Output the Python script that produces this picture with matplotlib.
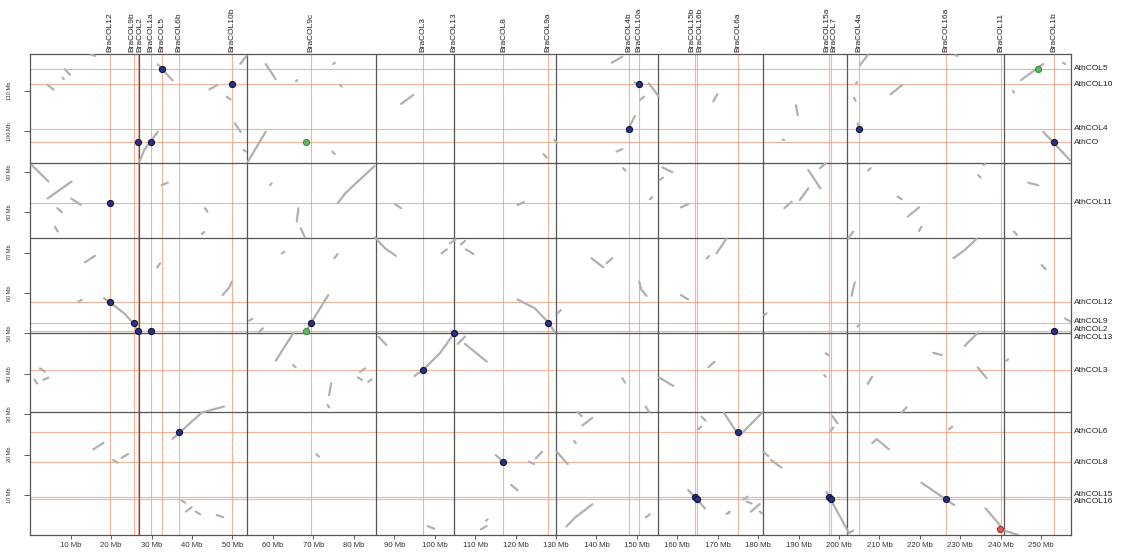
import numpy as np
import matplotlib
matplotlib.use("Agg")
import matplotlib.pyplot as plt
from matplotlib.transforms import blended_transform_factory

plt.rcParams['font.family'] = ['Liberation Sans', 'DejaVu Sans']

# ---------------- data (Mb) ----------------
# cumulative chromosome ends
bra_chrom_ends = [26.9, 53.7, 85.5, 104.8, 130.1, 155.3, 181.1, 202.0, 240.8, 257.3]
ath_chrom_ends = [30.43, 50.13, 73.59, 92.18, 119.16]

bra_genes = ["BraCOL12", "BraCOL9b", "BraCOL2", "BraCOL1a", "BraCOL5", "BraCOL6b",
             "BraCOL10b", "BraCOL9c", "BraCOL3", "BraCOL13", "BraCOL8", "BraCOL9a",
             "BraCOL4b", "BraCOL10a", "BraCOL15b", "BraCOL16b", "BraCOL6a",
             "BraCOL15a", "BraCOL7", "BraCOL4a", "BraCOL16a", "BraCOL11", "BraCOL1b"]
bra_pos = [19.7, 25.7, 26.6, 29.8, 32.5, 36.7, 49.9, 69.5, 97.0, 104.7, 117.0, 128.1,
           148.1, 150.5, 164.4, 164.9, 175.1, 197.6, 198.1, 205.0, 226.4, 240.0, 253.1]

ath_genes = ["AthCOL5", "AthCOL10", "AthCOL4", "AthCO", "AthCOL11", "AthCOL12",
             "AthCOL9", "AthCOL2", "AthCOL13", "AthCOL3", "AthCOL6", "AthCOL8",
             "AthCOL15", "AthCOL16"]
ath_pos = [115.57, 111.73, 100.67, 97.30, 82.28, 57.70, 52.50, 50.59, 49.98, 40.94,
           25.67, 18.09, 9.58, 8.94]

# synteny blocks: each is a polyline (x list, y list)
block_x = [
    [15.0, 16.0], [8.6, 9.8], [8.0, 8.3], [4.3, 5.7], [31.5, 35.2], [44.3, 46.3],
    [51.9, 53.5], [48.6, 49.5], [50.6, 52.0], [52.8, 53.3], [26.9, 28.2, 29.6, 31.5],
    [53.8, 58.2], [58.2, 60.7], [65.7, 66.0], [74.9, 75.3], [76.6, 77.0], [74.7, 75.3],
    [0.3, 4.5], [4.3, 10.2], [10.1, 12.5], [6.7, 7.8], [6.1, 6.8], [32.5, 34.0],
    [43.2, 43.8], [42.4, 43.0], [13.5, 16.0], [31.4, 32.1], [47.6, 49.3, 49.8],
    [59.3, 59.7], [66.3, 65.9], [66.9, 67.9], [76.0, 78.0, 85.1], [62.2, 62.8],
    [75.2, 76.0], [85.2, 87.7, 90.4],
    [91.7, 94.7], [143.8, 146.4], [149.4, 150.4], [153.0, 155.3], [150.8, 151.8],
    [147.5, 149.5], [145.0, 146.4], [126.9, 127.7], [129.6, 130.2], [146.6, 147.2],
    [156.3, 158.8], [155.7, 156.5], [153.2, 153.8], [90.2, 91.7], [120.5, 122.1],
    [160.9, 162.7], [168.9, 169.9], [101.7, 103.0], [103.8, 105.2], [106.5, 107.5],
    [107.7, 109.6], [138.8, 141.7], [142.5, 143.9], [167.3, 167.9], [169.7, 172.2],
    [150.6, 151.0, 152.4],
    [205.2, 207.1], [228.7, 229.3], [204.2, 204.5], [212.8, 215.6], [203.7, 204.1],
    [189.35, 189.8], [186.05, 186.4], [204.6, 205.0], [245.0, 250.5], [255.4, 255.9],
    [243.0, 243.3], [250.5, 257.1], [192.4, 195.4], [195.3, 196.7], [186.5, 188.3],
    [190.3, 192.4], [207.2, 207.8], [214.5, 215.5], [217.0, 219.8], [219.8, 220.4],
    [202.3, 203.5], [234.4, 235.0], [235.7, 236.1], [246.8, 249.3], [243.3, 244.0],
    [228.3, 231.1, 234.0], [250.1, 251.1], [203.1, 203.9],
    [11.9, 12.7], [18.2, 19.7, 23.4, 25.5, 26.7], [54.1, 54.9], [56.6, 57.5],
    [60.7, 65.0], [67.8, 73.7], [65.0, 65.6], [2.4, 3.6], [3.2, 4.5], [1.0, 1.7],
    [81.5, 82.8], [81.0, 82.0], [83.6, 84.4], [74.4, 73.9], [73.5, 73.9],
    [35.2, 42.4, 47.9], [15.6, 18.1], [20.5, 21.6], [22.6, 24.2], [70.8, 71.4],
    [86.1, 88.1], [37.4, 38.3], [38.5, 39.9], [40.9, 42.0], [46.1, 47.7],
    [94.97, 97.03, 101.3, 104.8], [105.7, 107.5], [107.5, 112.9],
    [120.5, 124.8, 128.3, 129.75], [130.4, 131.2], [160.9, 162.7], [167.7, 169.2],
    [146.4, 147.1], [155.5, 159.0], [152.2, 153.0], [135.3, 136.35], [136.5, 139.0],
    [134.5, 134.9], [130.2, 132.9], [125.0, 126.6], [123.3, 124.6], [115.1, 117.0],
    [118.9, 120.5], [162.7, 166.85], [166.0, 167.0], [165.2, 165.9],
    [171.5, 175.3, 180.9], [132.6, 134.7, 139.0], [98.3, 99.9], [111.45, 112.85],
    [112.7, 113.1], [152.2, 153.2], [172.2, 172.8],
    [181.5, 182.1], [204.6, 205.0], [231.1, 234.0], [223.3, 225.4], [255.9, 257.3],
    [241.4, 241.85], [234.3, 236.5], [207.1, 208.2], [196.7, 197.3], [196.35, 196.7],
    [215.5, 216.7], [198.3, 199.65], [198.0, 198.6], [208.2, 209.3, 212.35],
    [227.2, 228.0], [181.3, 182.5], [183.2, 185.8], [196.9, 202.3], [220.4, 228.5],
    [236.25, 240.9, 244.3], [176.3, 177.4], [177.2, 178.4], [178.2, 180.4],
    [180.4, 181.0], [172.6, 173.0], [202.3, 203.5],
]
block_y = [
    [119.0, 118.7], [115.4, 114.0], [113.3, 112.9], [111.5, 110.4], [116.6, 112.6], [110.4, 111.5],
    [116.7, 118.7], [108.6, 107.9], [102.0, 99.9], [95.4, 95.0], [92.3, 95.4, 97.3, 99.9],
    [92.5, 99.9], [116.7, 112.9], [112.4, 112.7], [116.7, 117.0], [111.5, 111.1], [95.0, 94.4],
    [91.7, 87.6], [83.4, 87.6], [83.4, 81.8], [81.0, 80.0], [76.4, 75.2], [86.7, 87.3],
    [81.0, 80.1], [74.6, 75.1], [67.6, 69.2], [66.35, 67.35], [59.5, 61.5, 62.8],
    [86.7, 87.15], [81.0, 77.7], [76.0, 73.8], [82.2, 84.8, 91.4], [69.8, 70.2],
    [68.6, 69.65], [73.8, 71.1, 69.2],
    [106.8, 109.0], [117.0, 118.5], [112.15, 111.7], [111.9, 108.8], [107.8, 108.6],
    [99.9, 103.8], [95.0, 95.65], [94.4, 93.5], [97.9, 97.2], [90.9, 90.3],
    [91.1, 89.9], [88.0, 88.55], [83.2, 83.7], [82.0, 81.0], [81.8, 82.45],
    [81.2, 82.0], [107.4, 109.2], [69.8, 70.8], [72.3, 73.3], [72.05, 72.9],
    [70.8, 69.65], [68.6, 66.35], [67.35, 68.6], [68.6, 69.15], [69.8, 73.5],
    [62.8, 61.0, 59.3],
    [116.4, 118.9], [118.9, 118.7], [111.9, 112.15], [109.2, 111.5], [108.35, 107.6],
    [106.5, 104.05], [98.0, 97.9], [102.0, 100.8], [112.7, 116.7], [117.0, 116.7],
    [110.0, 109.6], [99.9, 92.9], [90.45, 85.9], [90.9, 92.1], [81.0, 82.6],
    [83.0, 85.9], [90.3, 90.9], [83.85, 83.2], [78.9, 81.2], [75.35, 76.4],
    [73.5, 75.2], [89.2, 88.6], [91.7, 91.9], [87.3, 86.65], [75.2, 74.4],
    [68.6, 70.65, 73.4], [66.9, 65.9], [59.3, 62.6],
    [57.85, 58.3], [58.7, 57.7, 54.8, 52.5, 50.3], [53.15, 53.6], [50.4, 51.25],
    [43.25, 50.0], [50.0, 59.5], [42.2, 41.6], [41.35, 40.5], [38.5, 39.1], [38.6, 37.6],
    [40.5, 41.35], [39.1, 38.5], [38.05, 38.6], [37.6, 34.75], [32.3, 31.7],
    [23.9, 30.4, 31.9], [21.3, 22.9], [18.65, 18.0], [19.2, 20.15], [20.07, 19.5],
    [49.2, 47.1], [8.6, 8.1], [5.9, 6.95], [5.9, 5.2], [5.05, 4.5],
    [39.45, 40.9, 45.1, 50.0], [47.4, 49.2], [47.4, 43.0],
    [58.4, 56.2, 52.5, 50.2], [54.97, 55.8], [59.5, 58.4], [41.6, 43.0],
    [38.9, 37.8], [39.1, 37.0], [31.9, 30.6], [30.5, 29.55], [27.2, 29.1],
    [23.4, 22.8], [20.7, 17.67], [19.1, 20.7], [18.25, 17.67], [19.9, 18.1],
    [12.5, 11.2], [11.24, 6.7], [29.4, 28.4], [26.25, 26.9],
    [30.4, 24.6, 30.3], [2.2, 4.4, 7.7], [2.3, 1.66], [1.5, 2.3],
    [3.65, 3.97], [4.47, 5.2], [5.3, 5.8],
    [54.55, 54.97], [51.7, 52.1], [46.9, 49.85], [45.2, 44.65], [53.7, 52.9],
    [43.25, 43.6], [41.6, 38.9], [37.5, 39.3], [45.1, 44.65], [39.7, 39.3],
    [30.4, 31.7], [29.55, 27.74], [25.9, 26.75], [22.8, 23.86, 21.3],
    [26.25, 26.9], [20.7, 19.65], [18.65, 16.76], [10.8, 0.9], [13.05, 7.5],
    [6.7, 1.2, 0.1], [8.9, 9.6], [8.35, 7.9], [5.87, 7.77],
    [5.87, 5.46], [5.46, 5.87], [0.5, 1.2],
]

# gene hits
hit_x = [32.5, 49.9, 26.6, 29.8, 19.7, 150.5, 148.1, 205.0, 253.1, 19.7, 25.7, 26.6,
         29.8, 69.5, 36.7, 97.0, 104.7, 128.1, 117.0, 164.4, 164.9, 253.1, 175.1,
         197.6, 198.1, 226.4, 68.3, 249.1, 68.3, 239.9]
hit_y = [115.57, 111.73, 97.3, 97.3, 82.28, 111.73, 100.67, 100.67, 97.3, 57.7, 52.5,
         50.59, 50.59, 52.5, 25.67, 40.94, 49.98, 52.5, 18.09, 9.58, 8.94, 50.59, 25.67,
         9.58, 8.94, 8.94, 97.3, 115.57, 50.59, 1.5]
hit_kind = ["navy"] * 26 + ["green", "green", "green", "red"]

x_ticks = list(range(10, 251, 10))
y_ticks = list(range(10, 111, 10))

# ---------------- plotting ----------------
W, H = 1121, 559
fig = plt.figure(figsize=(W / 100, H / 100), dpi=100)
ax = fig.add_axes([30.3 / W, (H - 535.4) / H, (1070.7 - 30.3) / W, (535.4 - 54) / H])
ax.set_xlim(0, bra_chrom_ends[-1])
ax.set_ylim(0, ath_chrom_ends[-1])

orange = '#F2A083'
for x in bra_pos:
    ax.axvline(x, color=orange, lw=0.8, alpha=0.8, zorder=1)
for y in ath_pos:
    ax.axhline(y, color=orange, lw=0.8, alpha=0.8, zorder=1)

for x in bra_chrom_ends[:-1]:
    ax.axvline(x, color='#555555', lw=0.9, zorder=2)
for y in ath_chrom_ends[:-1]:
    ax.axhline(y, color='#555555', lw=0.9, zorder=2)

for xs, ys in zip(block_x, block_y):
    ax.plot(xs, ys, color='#B0B0B0', lw=1.6, solid_capstyle='round', zorder=3)

face = {"navy": '#26338A', "green": '#5CB85C', "red": '#E25656'}
edge = {"navy": '#111133', "green": '#3E8E3E', "red": '#B03030'}
for x, y, k in zip(hit_x, hit_y, hit_kind):
    ax.plot(x, y, 'o', ms=4.4, mfc=face[k], mec=edge[k], mew=0.8, zorder=4)


def spread(vals, gap):
    order = np.argsort(vals)
    v = np.asarray(vals, float)[order]
    clusters = [[i] for i in range(len(v))]

    def place(c):
        c0 = np.mean(v[c])
        n = len(c)
        return [c0 + (k - (n - 1) / 2) * gap for k in range(n)]

    merged = True
    while merged:
        merged = False
        for j in range(len(clusters) - 1):
            a, b = place(clusters[j]), place(clusters[j + 1])
            if b[0] - a[-1] < gap - 1e-9:
                clusters[j] = clusters[j] + clusters[j + 1]
                del clusters[j + 1]
                merged = True
                break
    out = np.empty(len(v))
    for c in clusters:
        for idx, p in zip(c, place(c)):
            out[order[idx]] = p
    return out


text_col = '#222222'
tx = blended_transform_factory(ax.transData, ax.transAxes)
for name, p in zip(bra_genes, spread(bra_pos, 1.9)):
    ax.text(p, 1.0 + 2 / 481, name, transform=tx, rotation=90, ha='center', va='bottom',
            fontsize=6, color=text_col)
ty = blended_transform_factory(ax.transAxes, ax.transData)
for name, p in zip(ath_genes, spread(ath_pos, 1.95)):
    ax.text(1.0 + 3 / 1040, p, name, transform=ty, ha='left', va='center',
            fontsize=6, color=text_col)

ax.set_xticks(x_ticks)
ax.set_xticklabels([f"{t} Mb" for t in x_ticks])
ax.set_yticks(y_ticks)
ax.set_yticklabels([f"{t} Mb" for t in y_ticks], rotation=90, va='center')
ax.tick_params(axis='x', length=3, width=0.6, color='#444444', labelsize=5.6,
               labelcolor='#333333', pad=2)
ax.tick_params(axis='y', length=4, width=0.6, color='#444444', labelsize=4.0,
               labelcolor='#333333', pad=9)
for s in ax.spines.values():
    s.set_color('#555555')
    s.set_linewidth(0.9)

fig.savefig("out.png", dpi=100)
